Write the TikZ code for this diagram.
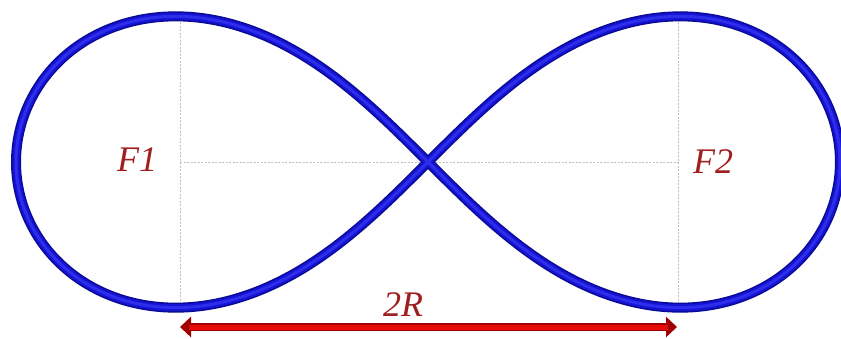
\documentclass[tikz,border=0pt]{standalone}
\usepackage{fontspec}
\setmainfont{Liberation Serif}[ItalicFont={Liberation Serif Italic}]
\usetikzlibrary{arrows.meta}
\definecolor{tubedark}{RGB}{10,10,150}
\definecolor{tubemid}{RGB}{20,20,210}
\definecolor{tubelight}{RGB}{45,45,235}
\definecolor{labelred}{RGB}{160,30,30}
\definecolor{arrowred}{RGB}{230,10,10}
\definecolor{arrowdark}{RGB}{160,0,0}
\tikzset{
  guide/.style={draw=black!25, line width=0.5pt, dash pattern=on 2pt off 1.5pt},
  lbl/.style={text=labelred, font=\fontsize{36}{36}\selectfont\itshape, inner sep=0pt},
  dimarrow/.style={line width=8pt, arrowdark, {Triangle[length=11pt,width=20pt]}-{Triangle[length=11pt,width=20pt]}},
  dimarrowin/.style={line width=5pt, arrowred, shorten <=9pt, shorten >=9pt},
}
\newcommand{\lemni}[1]{\draw[#1] plot[domain=0:360,samples=241,smooth cycle]
  ({428+412*cos(\x)/(1+sin(\x)^2)},{162+412*sin(\x)*cos(\x)/(1+sin(\x)^2)});}
\begin{document}
\begin{tikzpicture}[x=1pt,y=-1pt]
\useasboundingbox (0,0) rectangle (841,338);
\fill[white] (0,0) rectangle (841,338);
% guide lines
\coordinate (F1) at (180,162);
\coordinate (F2) at (678,162);
\coordinate (F1t) at (180,22);
\coordinate (F1b) at (180,303);
\coordinate (F2t) at (678,22);
\coordinate (F2b) at (678,303);
\draw[guide] (F1t) -- (F1b);
\draw[guide] (F2t) -- (F2b);
\draw[guide] (F1) -- (F2);
% lemniscate tube
\lemni{line width=10pt, tubedark}
\lemni{line width=7pt, tubemid}
\lemni{line width=3pt, tubelight}
% labels
\node[lbl] (L1) at (137,160) {F1};
\node[lbl] (L2) at (713,162) {F2};
% dimension arrow
\coordinate (A1) at (180,327);
\coordinate (A2) at (677,327);
\draw[dimarrow] (A1) -- (A2);
\draw[dimarrowin] (A1) -- (A2);
\node[lbl] (R) at (403,305) {2R};
\end{tikzpicture}
\end{document}
